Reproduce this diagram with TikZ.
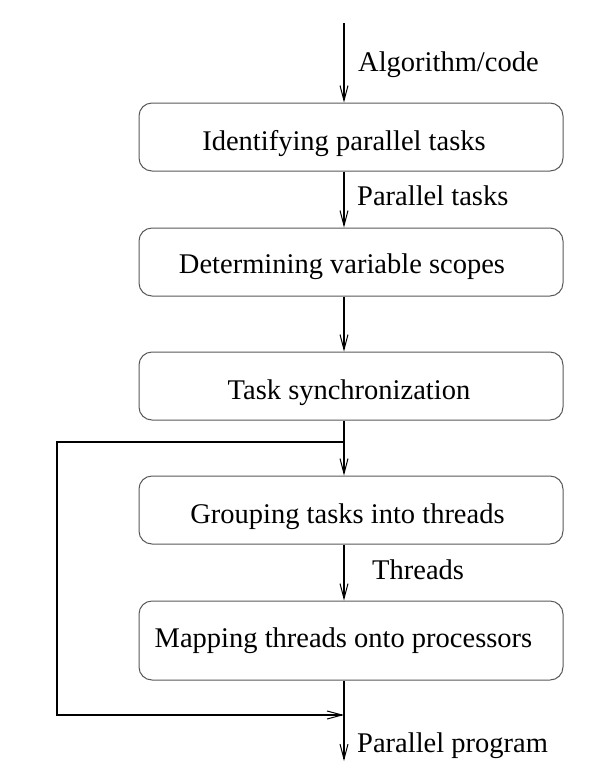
\documentclass[tikz,border=0pt]{standalone}
\usepackage{fontspec}
\setmainfont{Liberation Serif}
\usetikzlibrary{arrows.meta}
\begin{document}
\begin{tikzpicture}[x=1pt,y=-1pt,
  font=\fontsize{28.5pt}{34pt}\selectfont,
  stepbox/.style={draw=black!65,line width=1pt,rounded corners=13pt,
    minimum width=424pt,minimum height=68pt,inner sep=0pt},
  boxtext/.style={anchor=base,inner sep=0pt},
  lbl/.style={anchor=base west,inner sep=0pt},
  conn/.style={draw=black,line width=1.2pt},
  arr/.style={conn,-{Straight Barb[length=15pt,width=8pt,line width=1pt]}}]
\useasboundingbox (0,0) rectangle (590,777);
% boxes
\node[stepbox] (b1) at (351,137) {};
\node[stepbox] (b2) at (351,262) {};
\node[stepbox] (b3) at (351,386) {};
\node[stepbox] (b4) at (351,510) {};
\node[stepbox,minimum height=79pt] (b5) at (351,640.5) {};
% box texts
\node[boxtext] (t1) at (344,150) {Identifying parallel tasks};
\node[boxtext] (t2) at (342,273) {Determining variable scopes};
\node[boxtext] (t3) at (349,399) {Task synchronization};
\node[boxtext] (t4) at (347.5,523) {Grouping tasks into threads};
\node[boxtext] (t5) at (343.5,647) {Mapping threads onto processors};
% connector coordinates
\coordinate (top) at (344,23);
\coordinate (bot) at (344,761);
\coordinate (j1) at (344,442);
\coordinate (c1) at (57,442);
\coordinate (c2) at (57,715);
\coordinate (j2) at (344,715);
% connectors
\draw[arr] (top) -- (top |- b1.north);
\draw[arr] (top |- b1.south) -- (top |- b2.north);
\draw[arr] (top |- b2.south) -- (top |- b3.north);
\draw[arr] (top |- b3.south) -- (top |- b4.north);
\draw[arr] (top |- b4.south) -- (top |- b5.north);
\draw[arr] (top |- b5.south) -- (bot);
\draw[arr] (j1) -- (c1) -- (c2) -- (j2);
% labels
\node[lbl] (l1) at (358,71) {Algorithm/code};
\node[lbl] (l2) at (357,205) {Parallel tasks};
\node[lbl] (l3) at (372,579) {Threads};
\node[lbl] (l4) at (357,752) {Parallel program};
\end{tikzpicture}
\end{document}
